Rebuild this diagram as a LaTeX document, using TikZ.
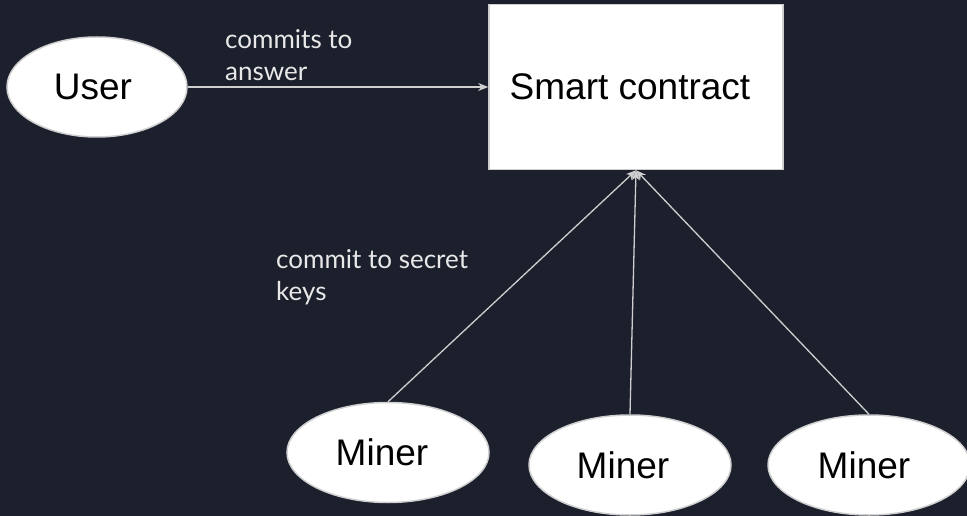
\documentclass[tikz,border=0pt]{standalone}
\usepackage{fontspec}
\setmainfont{Liberation Sans}
\newfontfamily\lblfont{Lato}
\usetikzlibrary{arrows.meta,shapes.geometric}
\definecolor{bg}{HTML}{1C202D}
\definecolor{edgegray}{HTML}{CFCFCF}
\definecolor{lblgray}{HTML}{E8E8E8}
\begin{document}
\begin{tikzpicture}[x=1pt,y=-1pt,
  ell/.style={ellipse, draw=edgegray, fill=white, line width=1.5pt, inner sep=0pt,
    font=\fontsize{37}{40}\selectfont, text=black},
  usr/.style={ell, minimum width=180pt, minimum height=100pt},
  minr/.style={ell, minimum width=202pt, minimum height=100pt},
  cbox/.style={rectangle, draw=edgegray, fill=white, line width=1.5pt,
    minimum width=294pt, minimum height=165pt, inner sep=0pt,
    font=\fontsize{37}{40}\selectfont, text=black},
  conn/.style={draw=edgegray, line width=1.3pt, -{Stealth[length=10pt,width=8pt,inset=3pt]}},
  lbl/.style={text=lblgray, font=\lblfont\fontsize{26}{32}\selectfont, align=left,
    anchor=north west, inner sep=0pt}
]
\fill[bg] (0,0) rectangle (967,516);
\useasboundingbox (0,0) rectangle (967,516);
\clip (0,0) rectangle (967,516);

\node[usr] (user) at (97,87) {\hspace*{-8pt}User};
\node[cbox] (contract) at (636,87) {\hspace*{-12pt}Smart contract};
\node[minr] (m1) at (388,452.5) {\hspace*{-12pt}Miner};
\node[minr] (m2) at (630,465) {\hspace*{-14pt}Miner};
\node[minr] (m3) at (869,465) {\hspace*{-10pt}Miner};

\node[lbl] (l1) at (225,29) {commits to\\answer};
\node[lbl] (l2) at (276,249) {commit to secret\\keys};

\draw[conn] (user.east) -- (contract.west);
\draw[conn] (m1.north) -- (contract.south);
\draw[conn] (m2.north) -- (contract.south);
\draw[conn] (m3.north) -- (contract.south);
\end{tikzpicture}
\end{document}
